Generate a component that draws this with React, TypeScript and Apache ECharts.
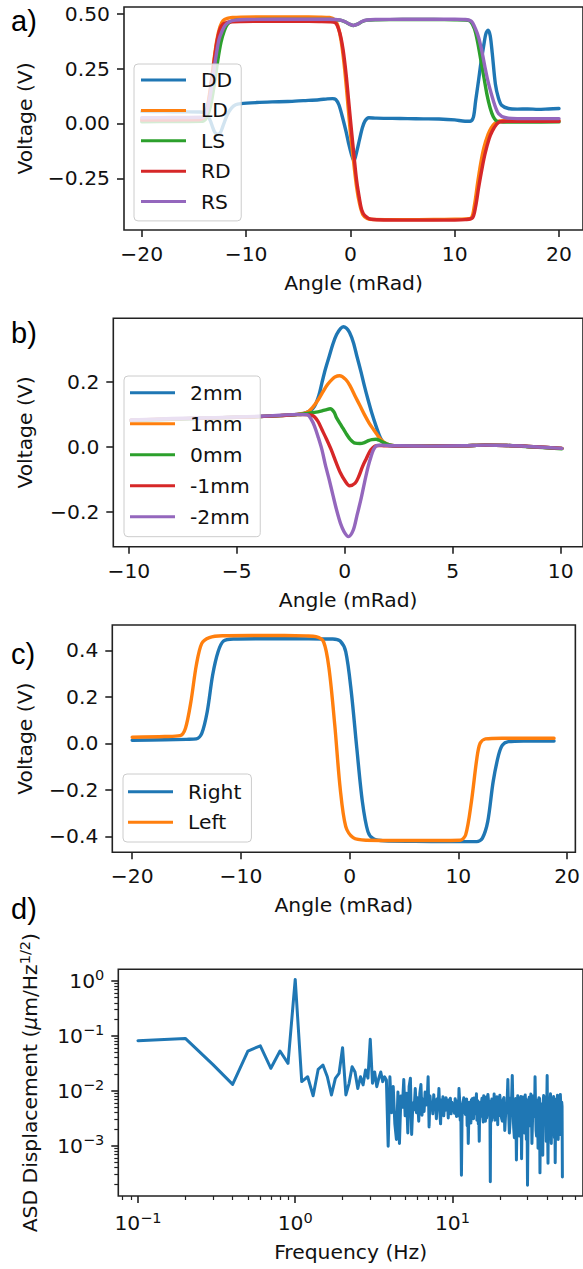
import React, { useEffect, useRef } from 'react';
import * as echarts from 'echarts';

const FONT = 'DejaVu Sans';
const TXT = '#111111';
const SPINE = '#222222';
const C_BLUE = '#1f77b4';
const C_ORANGE = '#ff7f0e';
const C_GREEN = '#2ca02c';
const C_RED = '#d62728';
const C_PURPLE = '#9467bd';

// ---------- Panel a ----------
const legendA = ['DD', 'LD', 'LS', 'RD', 'RS'];
const ddX = [-20, -18, -16, -14.5, -14, -13.5, -13.1, -12.8, -12.5, -12.2, -11.8, -11.4, -11, -10.5, -9, -7.5, -6, -4.5, -3, -2.2, -1.7, -1.4, -1.1, -0.7, -0.4, -0.18, 0.1, 0.35, 0.6, 0.88, 1.15, 1.4, 1.76, 2.5, 4, 5.5, 7, 8.5, 10, 11, 11.5, 11.8, 12.0, 12.3, 12.5, 12.8, 13.0, 13.2, 13.4, 13.6, 13.9, 14.2, 14.5, 15.15, 16, 17, 18, 19, 20];
const ddY = [0.055, 0.054, 0.053, 0.052, 0.048, 0.02, -0.03, -0.05, -0.045, -0.01, 0.04, 0.07, 0.085, 0.09, 0.095, 0.098, 0.1, 0.104, 0.108, 0.112, 0.113, 0.109, 0.085, 0.018, -0.04, -0.088, -0.14, -0.171, -0.13, -0.073, -0.02, 0.011, 0.026, 0.024, 0.023, 0.022, 0.021, 0.02, 0.016, 0.01, 0.01, 0.03, 0.1, 0.2, 0.27, 0.36, 0.41, 0.424, 0.4, 0.32, 0.18, 0.115, 0.083, 0.068, 0.065, 0.066, 0.064, 0.066, 0.068];
const ldX = [-20, -17, -14.5, -14, -13.7, -13.4, -13.1, -12.8, -12.5, -12.2, -11.8, -11.3, -10.5, -8, -5, -3, -2, -1.5, -1.2, -0.9, -0.6, -0.3, 0, 0.3, 0.6, 0.9, 1.2, 1.6, 2.2, 5, 8, 10, 11, 11.6, 11.9, 12.2, 12.5, 12.8, 13.2, 13.5, 13.9, 14.3, 15, 17, 20];
const ldY = [0.02, 0.021, 0.022, 0.035, 0.08, 0.17, 0.28, 0.38, 0.44, 0.468, 0.478, 0.482, 0.484, 0.485, 0.485, 0.484, 0.482, 0.472, 0.445, 0.38, 0.27, 0.12, -0.04, -0.17, -0.29, -0.37, -0.415, -0.432, -0.437, -0.438, -0.437, -0.436, -0.435, -0.43, -0.37, -0.27, -0.18, -0.11, -0.05, -0.02, 0.003, 0.012, 0.014, 0.014, 0.014];
const lsX = [-20, -17, -14.2, -13.8, -13.4, -13.0, -12.7, -12.4, -12.1, -11.8, -11.4, -10.8, -10, -7, -4, -2, -1, -0.5, -0.1, 0.3, 0.7, 1.1, 1.6, 2.5, 5, 8, 10, 11, 11.5, 11.9, 12.2, 12.5, 12.8, 13.1, 13.4, 13.7, 14.0, 14.4, 15, 17, 20];
const lsY = [0.008, 0.009, 0.01, 0.025, 0.08, 0.19, 0.29, 0.37, 0.42, 0.45, 0.465, 0.47, 0.472, 0.473, 0.473, 0.473, 0.47, 0.462, 0.452, 0.446, 0.452, 0.463, 0.47, 0.472, 0.473, 0.473, 0.472, 0.471, 0.465, 0.43, 0.37, 0.29, 0.21, 0.13, 0.07, 0.03, 0.012, 0.007, 0.006, 0.006, 0.007];
const rdX = [-20, -17, -14.5, -14, -13.7, -13.4, -13.1, -12.8, -12.5, -12.2, -11.8, -11.3, -10.5, -8, -5, -3, -2, -1.4, -1.0, -0.7, -0.4, -0.18, 0.1, 0.35, 0.6, 0.88, 1.1, 1.4, 2.0, 5, 8, 10, 11, 11.7, 12.0, 12.3, 12.6, 12.9, 13.3, 13.6, 14.0, 14.3, 15, 17, 20];
const rdY = [0.015, 0.016, 0.017, 0.03, 0.07, 0.16, 0.27, 0.37, 0.43, 0.452, 0.46, 0.463, 0.464, 0.465, 0.465, 0.464, 0.463, 0.457, 0.41, 0.336, 0.22, 0.11, -0.03, -0.148, -0.26, -0.345, -0.395, -0.42, -0.436, -0.44, -0.44, -0.44, -0.438, -0.43, -0.38, -0.29, -0.21, -0.14, -0.07, -0.035, -0.005, 0.007, 0.01, 0.01, 0.01];
const rsX = [-20, -17, -14.2, -13.8, -13.5, -13.2, -12.9, -12.6, -12.3, -12.0, -11.6, -11.0, -10, -7, -4, -2, -1, -0.5, -0.1, 0.3, 0.7, 1.1, 1.6, 2.5, 5, 8, 10, 11, 11.6, 12.0, 12.3, 12.6, 12.9, 13.2, 13.6, 13.9, 14.2, 14.8, 16, 18, 20];
const rsY = [0.026, 0.027, 0.028, 0.05, 0.11, 0.2, 0.3, 0.38, 0.42, 0.447, 0.463, 0.47, 0.473, 0.474, 0.474, 0.474, 0.471, 0.463, 0.452, 0.446, 0.452, 0.464, 0.471, 0.473, 0.474, 0.474, 0.474, 0.473, 0.465, 0.43, 0.39, 0.33, 0.257, 0.19, 0.12, 0.075, 0.045, 0.027, 0.022, 0.022, 0.022];
const aXTicks = [-20, -10, 0, 10, 20];
const aYTicks = [-0.25, 0, 0.25, 0.5];

// ---------- Panel b ----------
const legendB = ['2mm', '1mm', '0mm', '-1mm', '-2mm'];
const b2X = [-9.9, -8, -6, -4, -3, -2.2, -1.9, -1.6, -1.4, -1.2, -1.06, -0.9, -0.72, -0.55, -0.38, -0.2, -0.07, 0.08, 0.22, 0.4, 0.56, 0.75, 0.91, 1.08, 1.25, 1.42, 1.59, 1.72, 1.85, 2.05, 2.5, 4, 5.5, 6.5, 7.5, 8.5, 10.05];
const b2Y = [0.082, 0.086, 0.09, 0.094, 0.097, 0.101, 0.104, 0.112, 0.126, 0.16, 0.198, 0.24, 0.28, 0.318, 0.347, 0.365, 0.371, 0.366, 0.353, 0.322, 0.28, 0.232, 0.188, 0.145, 0.105, 0.07, 0.038, 0.02, 0.01, 0.005, 0.003, 0.003, 0.004, 0.006, 0.005, 0.002, -0.004];
const b1X = [-9.9, -8, -6, -4, -3, -2.2, -1.75, -1.5, -1.23, -1.0, -0.8, -0.6, -0.46, -0.24, 0.05, 0.25, 0.48, 0.7, 0.91, 1.12, 1.33, 1.5, 1.68, 1.93, 2.2, 2.5, 4, 5.5, 6.5, 7.5, 8.5, 10.05];
const b1Y = [0.083, 0.087, 0.09, 0.094, 0.097, 0.101, 0.107, 0.122, 0.146, 0.172, 0.193, 0.208, 0.216, 0.22, 0.208, 0.188, 0.157, 0.128, 0.1, 0.075, 0.054, 0.038, 0.023, 0.01, 0.005, 0.003, 0.003, 0.004, 0.006, 0.005, 0.002, -0.004];
const b0X = [-9.9, -8, -6, -4, -3, -2.2, -1.9, -1.4, -1.1, -0.89, -0.67, -0.5, -0.38, -0.15, 0.05, 0.25, 0.48, 0.7, 0.91, 1.1, 1.25, 1.45, 1.59, 1.8, 1.93, 2.2, 2.5, 4, 5.5, 6.5, 7.5, 8.5, 10.05];
const b0Y = [0.082, 0.086, 0.09, 0.094, 0.097, 0.1, 0.102, 0.107, 0.111, 0.115, 0.118, 0.108, 0.09, 0.065, 0.043, 0.024, 0.012, 0.011, 0.014, 0.02, 0.023, 0.024, 0.021, 0.014, 0.01, 0.005, 0.003, 0.003, 0.004, 0.006, 0.005, 0.001, -0.005];
const bm1X = [-9.9, -8, -6, -4, -3, -2.2, -1.9, -1.49, -1.25, -1.06, -0.85, -0.63, -0.4, -0.2, 0.0, 0.22, 0.48, 0.65, 0.82, 1.0, 1.16, 1.3, 1.42, 1.6, 1.85, 2.2, 2.5, 4, 5.5, 6.5, 7.5, 8.5, 10.05];
const bm1Y = [0.083, 0.087, 0.09, 0.094, 0.097, 0.1, 0.1, 0.097, 0.08, 0.054, 0.025, -0.008, -0.048, -0.08, -0.103, -0.119, -0.111, -0.09, -0.06, -0.035, -0.013, -0.002, 0.004, 0.005, 0.004, 0.004, 0.003, 0.003, 0.004, 0.006, 0.005, 0.002, -0.004];
const bm2X = [-9.9, -8, -6, -4, -3, -2.2, -1.75, -1.55, -1.4, -1.23, -1.06, -0.9, -0.72, -0.55, -0.38, -0.2, -0.03, 0.17, 0.39, 0.56, 0.74, 0.91, 1.08, 1.22, 1.33, 1.5, 1.7, 2.0, 2.5, 4, 5.5, 6.5, 7.5, 8.5, 10.05];
const bm2Y = [0.084, 0.088, 0.091, 0.095, 0.098, 0.101, 0.1, 0.085, 0.064, 0.03, -0.008, -0.055, -0.101, -0.148, -0.194, -0.235, -0.261, -0.276, -0.256, -0.212, -0.163, -0.11, -0.06, -0.028, -0.008, 0.005, 0.006, 0.005, 0.004, 0.003, 0.004, 0.006, 0.005, 0.002, -0.004];
const bXTicks = [-10, -5, 0, 5, 10];
const bYTicks = [-0.2, 0, 0.2, 0.4];

// ---------- Panel c ----------
const legendC = ['Right', 'Left'];
const rightX = [-20, -17, -15, -14.1, -13.6, -13.1, -12.6, -12.1, -11.6, -10.7, -8, -5, -2.5, -1.55, -0.87, -0.36, 0.15, 0.66, 1.17, 1.68, 2.19, 3.2, 6, 9, 11.7, 12.2, 12.7, 13.2, 13.7, 14.06, 14.6, 16, 18.8];
const rightY = [0.013, 0.015, 0.017, 0.019, 0.043, 0.136, 0.294, 0.394, 0.44, 0.449, 0.45, 0.45, 0.449, 0.449, 0.44, 0.394, 0.222, -0.022, -0.251, -0.38, -0.411, -0.42, -0.422, -0.423, -0.423, -0.409, -0.337, -0.165, -0.05, -0.007, 0.007, 0.01, 0.01];
const leftX = [-20, -17, -15.6, -15.1, -14.6, -14.1, -13.6, -12.9, -11.7, -9, -6, -4, -3.1, -2.4, -1.9, -1.37, -0.87, -0.36, 0.32, 1.5, 5, 8, 10.16, 10.67, 11.2, 11.7, 12.0, 12.5, 14, 16, 18.8];
const leftY = [0.026, 0.029, 0.033, 0.065, 0.179, 0.337, 0.43, 0.455, 0.463, 0.464, 0.464, 0.462, 0.459, 0.437, 0.323, 0.079, -0.194, -0.358, -0.406, -0.417, -0.418, -0.418, -0.417, -0.394, -0.251, -0.065, 0.0, 0.019, 0.022, 0.022, 0.022];
const cXTicks = [-20, -10, 0, 10, 20];
const cYTicks = [-0.4, -0.2, 0, 0.2, 0.4];

// ---------- Panel d ----------
const asdLowF = [0.1, 0.2, 0.3, 0.4, 0.5, 0.6, 0.7, 0.8, 0.9, 1.0, 1.1, 1.2, 1.3, 1.4, 1.5, 1.6, 1.7, 1.8, 1.9, 2.0, 2.1, 2.2, 2.3, 2.4, 2.5, 2.6, 2.7, 2.8, 2.9, 3.0, 3.1, 3.2, 3.3, 3.4, 3.5, 3.6, 3.7, 3.8, 3.9];
const asdLowV = [0.082, 0.09, 0.03, 0.0131, 0.053, 0.066, 0.0257, 0.053, 0.0316, 1.07, 0.0147, 0.018, 0.0081, 0.0246, 0.0295, 0.018, 0.0084, 0.0169, 0.0207, 0.061, 0.0084, 0.0137, 0.0275, 0.022, 0.011, 0.018, 0.0128, 0.024, 0.017, 0.087, 0.0137, 0.022, 0.0119, 0.0169, 0.022, 0.0147, 0.018, 0.0157, 0.00098];
// 4.0 .. 10.0 Hz, every 0.1 Hz
const asdMidV = [0.018, 0.004, 0.012, 0.0025, 0.0013, 0.0095, 0.0011, 0.008, 0.005, 0.016,
  0.0035, 0.009, 0.0017, 0.012, 0.017, 0.0016, 0.006, 0.0045, 0.011, 0.004,
  0.0075, 0.0028, 0.009, 0.013, 0.0036, 0.007, 0.0042, 0.0095, 0.0055, 0.0065,
  0.018, 0.0022, 0.008, 0.0045, 0.0062, 0.0038, 0.0085, 0.0048, 0.0068, 0.0031,
  0.0072, 0.005, 0.011, 0.0042, 0.0025, 0.0068, 0.0047, 0.0078, 0.0035, 0.0058,
  0.0044, 0.0075, 0.0052, 0.0066, 0.0032, 0.0069, 0.0048, 0.0073, 0.0038, 0.0062,
  0.0055];
// 10.1 .. 19.9 Hz, every 0.2 Hz
const asdHighAV = [0.0058, 0.0039, 0.0061, 0.0047, 0.0035, 0.0069, 0.0044, 0.0031, 0.0064, 0.0052,
  0.0037, 0.0071, 0.0049, 0.0033, 0.0058, 0.0026, 0.0063, 0.0045, 0.0074, 0.0038,
  0.0055, 0.0029, 0.0066, 0.0041, 0.0057, 0.0034, 0.0062, 0.0048, 0.0027, 0.0068,
  0.0043, 0.0059, 0.0032, 0.0054, 0.0072, 0.0036, 0.0049, 0.0065, 0.0028, 0.0061,
  0.0046, 0.0033, 0.0069, 0.0051, 0.0039, 0.0057, 0.0044, 0.0073, 0.0035, 0.0056];
// 10.2 .. 20.0 Hz, every 0.2 Hz
const asdHighV = [0.0045, 0.0072, 0.0034, 0.0066, 0.011, 0.0029, 0.00029, 0.0058, 0.0075, 0.0041,
  0.0068, 0.0023, 0.0011, 0.0062, 0.0047, 0.0069, 0.0072, 0.0031, 0.0056, 0.0044,
  0.0088, 0.0036, 0.0025, 0.0012, 0.0061, 0.0049, 0.0073, 0.0033, 0.0081, 0.0053,
  0.0028, 0.0077, 0.0042, 0.0086, 0.0038, 0.0064, 0.00022, 0.0052, 0.0071, 0.0035,
  0.0059, 0.0087, 0.0029, 0.0067, 0.0043, 0.0078, 0.0024, 0.0062, 0.0047, 0.0083];
// 20.25 .. 49.75 Hz, every 0.5 Hz
const asdTopAV = [0.0051, 0.0028, 0.0075, 0.0036, 0.0062, 0.0041, 0.0027, 0.0066, 0.0048, 0.0014,
  0.0072, 0.0039, 0.0058, 0.0022, 0.0079, 0.0045, 0.0063, 0.0017, 0.0054, 0.0068,
  0.0031, 0.0076, 0.0043, 0.0059, 0.0026, 0.0081, 0.0037, 0.0052, 0.0015, 0.0067,
  0.0044, 0.0073, 0.0029, 0.0057, 0.0021, 0.0064, 0.0046, 0.0078, 0.0033, 0.0055,
  0.0024, 0.0069, 0.0038, 0.0061, 0.0018, 0.0074, 0.0042, 0.0056, 0.0027, 0.0065,
  0.0035, 0.0071, 0.0022, 0.0059, 0.0045, 0.0077, 0.0016, 0.0063, 0.0039, 0.0052];
// 20.5 .. 50.0 Hz, every 0.5 Hz
const asdTopV = [0.0032, 0.0069, 0.0019, 0.0058, 0.016, 0.0017, 0.0074, 0.019, 0.0021, 0.0055,
  0.00055, 0.0081, 0.0015, 0.0066, 0.00058, 0.0077, 0.0026, 0.0084, 0.0013, 0.00019,
  0.0062, 0.0023, 0.0087, 0.0011, 0.0071, 0.0034, 0.018, 0.0019, 0.0064, 0.0009,
  0.0075, 0.00032, 0.0058, 0.0016, 0.00067, 0.0082, 0.0024, 0.0069, 0.0012, 0.019,
  0.00048, 0.0073, 0.0028, 0.0088, 0.0011, 0.0065, 0.0021, 0.0079, 0.0014, 0.00049,
  0.0071, 0.0026, 0.0083, 0.0013, 0.0068, 0.0019, 0.0086, 0.0035, 0.0062, 0.00027];
const dXTicks = [0.1, 1, 10];
const dXMinor = [0.08, 0.09, 0.2, 0.3, 0.4, 0.5, 0.6, 0.7, 0.8, 0.9, 2, 3, 4, 5, 6, 7, 8, 9, 20, 30, 40, 50, 60];
const dYTicks = [0.001, 0.01, 0.1, 1];
const dYMinor = [0.0002, 0.0003, 0.0004, 0.0005, 0.0006, 0.0007, 0.0008, 0.0009, 0.002, 0.003, 0.004, 0.005, 0.006, 0.007, 0.008, 0.009, 0.02, 0.03, 0.04, 0.05, 0.06, 0.07, 0.08, 0.09, 0.2, 0.3, 0.4, 0.5, 0.6, 0.7, 0.8, 0.9];

function zip(xs: number[], ys: number[]) {
  return xs.map((x, i) => [x, ys[i]]);
}
function grid(start: number, step: number, vals: number[]) {
  return vals.map((v, i) => [Math.round((start + i * step) * 100) / 100, v]);
}

const fmtFixed = (n: number) => (v: number) => (v < 0 ? '\u2212' : '') + Math.abs(v).toFixed(n);
const fmtPow = (v: number) => {
  const e = Math.round(Math.log10(v));
  return '{b|10}{s|' + (e < 0 ? '\u2212' + -e : String(e)) + '}';
};

const FS = 20.3;
const FSS = 14.5;
const tickStyle = { color: SPINE, width: 1.6 };

function linAxis(isX: boolean, gridIndex: number, min: number, max: number, ticks: number[], fmt: (v: number) => string, name: string, nameGap: number) {
  return {
    type: 'value', gridIndex, min, max,
    position: isX ? 'bottom' : 'left',
    axisLine: { show: false, onZero: false },
    axisTick: { show: true, inside: false, length: 7, lineStyle: tickStyle, customValues: ticks },
    axisLabel: { show: true, margin: 14, customValues: ticks, formatter: fmt, color: TXT, fontSize: FS, fontFamily: FONT },
    splitLine: { show: false },
    name, nameLocation: 'middle', nameGap,
    nameTextStyle: { fontSize: FS, fontFamily: FONT, color: TXT },
  };
}

const richPow = {
  b: { fontSize: FS, fontFamily: FONT, color: TXT, lineHeight: 26 },
  s: { fontSize: FSS, fontFamily: FONT, color: TXT, lineHeight: 14, verticalAlign: 'top' },
};

function logAxis(isX: boolean, gridIndex: number, min: number, max: number, ticks: number[], name: string, nameGap: number, nameRich?: any) {
  return {
    type: 'log', logBase: 10, gridIndex, min, max,
    position: isX ? 'bottom' : 'left',
    axisLine: { show: false, onZero: false },
    axisTick: { show: true, inside: false, length: 7, lineStyle: tickStyle, customValues: ticks },
    axisLabel: { show: true, margin: 14, customValues: ticks, formatter: fmtPow, rich: richPow },
    splitLine: { show: false },
    name, nameLocation: 'middle', nameGap,
    nameTextStyle: nameRich ? { rich: nameRich } : { fontSize: FS, fontFamily: FONT, color: TXT },
  };
}
function minorLogAxis(isX: boolean, gridIndex: number, min: number, max: number, ticks: number[]) {
  return {
    type: 'log', logBase: 10, gridIndex, min, max,
    position: isX ? 'bottom' : 'left', offset: 0,
    axisLine: { show: false, onZero: false },
    axisTick: { show: true, inside: false, length: 4, lineStyle: { color: SPINE, width: 1.2 }, customValues: ticks },
    axisLabel: { show: false },
    splitLine: { show: false },
  };
}

function line(name: string, data: number[][], color: string, idx: number, width = 3.4, smooth: number | boolean = 0.3) {
  return {
    type: 'line', name, data, xAxisIndex: idx, yAxisIndex: idx,
    showSymbol: false, symbol: 'none', color, smooth,
    lineStyle: { color, width, cap: 'round', join: 'round' },
    itemStyle: { color }, silent: true, emphasis: { disabled: true }, clip: true,
  };
}

function legend(names: string[], left: number, top: number, padding: number[], gap: number) {
  return {
    show: true, orient: 'vertical', left, top, padding, itemGap: gap,
    itemWidth: 45, itemHeight: 3, icon: 'rect', selectedMode: false,
    backgroundColor: 'rgba(255,255,255,0.8)', borderColor: '#cccccc', borderWidth: 1, borderRadius: 4,
    textStyle: { fontFamily: FONT, fontSize: FS, color: TXT, lineHeight: 20, padding: [0, 0, 0, 10] },
    data: names,
  };
}

function letter(text: string, y: number) {
  return {
    type: 'text', x: 11, y,
    style: { text, fontSize: 29, fontFamily: 'Liberation Sans', fill: '#000', align: 'left', verticalAlign: 'middle' },
  };
}

const gridBox = { show: true, borderColor: SPINE, borderWidth: 1.6, backgroundColor: 'transparent' };

export default function App() {
  const ref = useRef<HTMLDivElement>(null);
  useEffect(() => {
    if (!ref.current) return;
    const chart = echarts.init(ref.current, null, { renderer: 'svg' });
    const dData = [
      ...zip(asdLowF, asdLowV),
      ...grid(4.0, 0.1, asdMidV),
      ...grid(10.1, 0.2, asdHighAV),
      ...grid(10.2, 0.2, asdHighV),
      ...grid(20.25, 0.5, asdTopAV),
      ...grid(20.5, 0.5, asdTopV),
    ].sort((p, q) => p[0] - q[0]);
    const dNameRich = {
      n: { fontSize: FS, fontFamily: FONT, color: TXT, lineHeight: 26 },
      i: { fontSize: FS, fontFamily: FONT, color: TXT, lineHeight: 26, fontStyle: 'italic' },
      s: { fontSize: FSS, fontFamily: FONT, color: TXT, lineHeight: 14, verticalAlign: 'top' },
    };
    const option: any = {
      animation: false,
      backgroundColor: '#ffffff',
      textStyle: { fontFamily: FONT },
      grid: [
        { ...gridBox, left: 124, top: 7, width: 464.6, height: 223 },
        { ...gridBox, left: 113.3, top: 318.3, width: 472.6, height: 228.4 },
        { ...gridBox, left: 112.3, top: 625, width: 466.7, height: 227.3 },
        { ...gridBox, left: 118.3, top: 969.3, width: 466, height: 226.7 },
      ],
      xAxis: [
        linAxis(true, 0, -21.7, 22.3, aXTicks, fmtFixed(0), 'Angle (mRad)', 43),
        linAxis(true, 1, -10.72, 11.03, bXTicks, fmtFixed(0), 'Angle (mRad)', 43),
        linAxis(true, 2, -21.83, 20.76, cXTicks, fmtFixed(0), 'Angle (mRad)', 43),
        logAxis(true, 3, 0.07499, 67.6, dXTicks, 'Frequency (Hz)', 45.7),
        minorLogAxis(true, 3, 0.07499, 67.6, dXMinor),
      ],
      yAxis: [
        linAxis(false, 0, -0.485, 0.53, aYTicks, fmtFixed(2), 'Voltage (V)', 89),
        linAxis(false, 1, -0.307, 0.397, bYTicks, fmtFixed(1), 'Voltage (V)', 78),
        linAxis(false, 2, -0.469, 0.509, cYTicks, fmtFixed(1), 'Voltage (V)', 77),
        logAxis(false, 3, 1.213e-4, 1.633, dYTicks, '{n|ASD Displacement (}{i|\u03bc}{n|m/Hz}{s|1/2}{n|)}', 75, dNameRich),
        minorLogAxis(false, 3, 1.213e-4, 1.633, dYMinor),
      ],
      legend: [
        legend(legendA, 134, 64, [6, 9, 9.3, 7], 10.4),
        legend(legendB, 124, 376, [6.7, 10.5, 10, 6], 11),
        legend(legendC, 123, 774, [7.7, 10, 9.7, 5], 10.6),
      ],
      series: [
        line('DD', zip(ddX, ddY), C_BLUE, 0),
        line('LD', zip(ldX, ldY), C_ORANGE, 0),
        line('LS', zip(lsX, lsY), C_GREEN, 0),
        line('RD', zip(rdX, rdY), C_RED, 0),
        line('RS', zip(rsX, rsY), C_PURPLE, 0),
        line('2mm', zip(b2X, b2Y), C_BLUE, 1),
        line('1mm', zip(b1X, b1Y), C_ORANGE, 1),
        line('0mm', zip(b0X, b0Y), C_GREEN, 1),
        line('-1mm', zip(bm1X, bm1Y), C_RED, 1),
        line('-2mm', zip(bm2X, bm2Y), C_PURPLE, 1),
        line('Right', zip(rightX, rightY), C_BLUE, 2),
        line('Left', zip(leftX, leftY), C_ORANGE, 2),
        line('ASD', dData, C_BLUE, 3, 3, false),
      ],
      graphic: [
        letter('a)', 21),
        letter('b)', 332.5),
        letter('c)', 653.5),
        letter('d)', 909),
      ],
    };
    chart.setOption(option);
    return () => chart.dispose();
  }, []);
  return (
    <div
      ref={ref}
      style={{ position: 'absolute', left: 0, top: 0, width: 583, height: 1269, background: '#fff' }}
    />
  );
}
